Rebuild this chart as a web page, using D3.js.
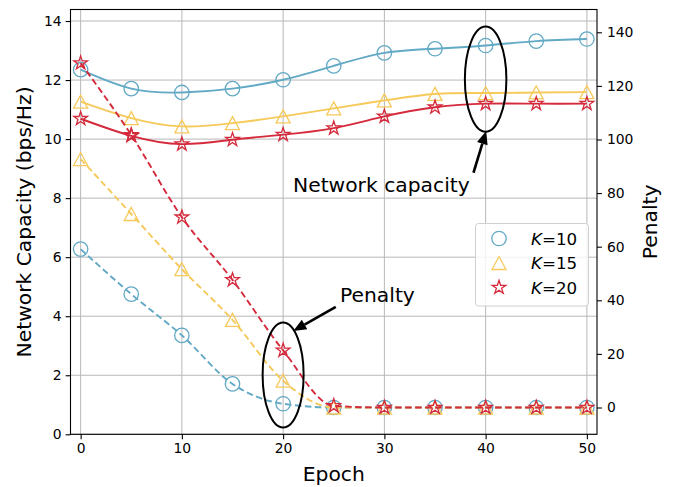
<!DOCTYPE html>
<html>
<head>
<meta charset="utf-8">
<script src="https://cdn.jsdelivr.net/npm/d3@7"></script>
<style>
  body { margin: 0; background: #fff; }
  svg { font-family: "DejaVu Sans", sans-serif; }
</style>
</head>
<body>
<div id="chart"></div>
<script>
// data
const EPOCHS = [0, 5, 10, 15, 20, 25, 30, 35, 40, 45, 50];
const CAP_K10 = [12.35, 11.71, 11.58, 11.71, 12.01, 12.48, 12.92, 13.06, 13.17, 13.32, 13.39];
const CAP_K15 = [11.27, 10.71, 10.43, 10.54, 10.77, 11.04, 11.31, 11.53, 11.56, 11.58, 11.59];
const CAP_K20 = [10.69, 10.11, 9.83, 9.98, 10.15, 10.37, 10.77, 11.08, 11.20, 11.20, 11.20];
const PEN_K10 = [59.1, 42.3, 26.9, 8.8, 1.4, 0, 0, 0, 0, 0, 0];
const PEN_K15 = [92.7, 72.2, 51.6, 32.7, 10.0, 0, 0, 0, 0, 0, 0];
const PEN_K20 = [128.5, 101.7, 71.0, 47.6, 21.3, 0.6, 0, 0, 0, 0, 0];
const K_LABELS = ["10", "15", "20"];
const X_TICKS = [0, 10, 20, 30, 40, 50];
const LEFT_TICKS = [0, 2, 4, 6, 8, 10, 12, 14];
const RIGHT_TICKS = [0, 20, 40, 60, 80, 100, 120, 140];

const WIDTH = 674, HEIGHT = 487;
const LEFT = 70.5, RIGHT = 597, TOP = 9.5, BOTTOM = 434.3;
const COLORS = ["#62a9c5", "#f6c95b", "#d42a3c"];
const SHAPES = ["circle", "triangle", "star"];
const LABEL_SIZE = "20.3px";

const svg = d3.select("#chart").append("svg")
  .attr("width", WIDTH).attr("height", HEIGHT);

const X = d3.scaleLinear().domain([-1, 51]).range([LEFT, RIGHT]);
const YL = d3.scaleLinear().domain([0, 14.39]).range([BOTTOM, TOP]);
const YR = d3.scaleLinear().domain([-10, 148.5]).range([BOTTOM, TOP]);

// grid
svg.append("g").selectAll("line").data(X_TICKS).enter().append("line")
  .attr("x1", d => X(d)).attr("x2", d => X(d))
  .attr("y1", TOP).attr("y2", BOTTOM)
  .attr("stroke", "#b8b8b8").attr("stroke-width", 1);
svg.append("g").selectAll("line").data(LEFT_TICKS).enter().append("line")
  .attr("x1", LEFT).attr("x2", RIGHT)
  .attr("y1", d => YL(d)).attr("y2", d => YL(d))
  .attr("stroke", "#b8b8b8").attr("stroke-width", 1);

// marker path
function markerPath(shape) {
  if (shape === "circle") return d3.symbol().type(d3.symbolCircle).size(Math.PI * 7.2 * 7.2)();
  if (shape === "star") return d3.symbol().type(d3.symbolStar).size(58)();
  return "M0,-6.5L7,6.5L-7,6.5Z";
}

function drawSeries(xs, ys, yScale, color, shape, dashed, curve) {
  const line = d3.line()
    .x((d, i) => X(xs[i]))
    .y(d => yScale(d))
    .curve(curve);
  svg.append("path")
    .datum(ys)
    .attr("d", line)
    .attr("fill", "none")
    .attr("stroke", color)
    .attr("stroke-width", 1.9)
    .attr("stroke-dasharray", dashed ? "6.5,3.5" : null);
  svg.append("g").selectAll("path").data(ys).enter().append("path")
    .attr("d", markerPath(shape))
    .attr("transform", (d, i) => "translate(" + X(xs[i]) + "," + yScale(d) + ")")
    .attr("fill", "none")
    .attr("stroke", color)
    .attr("stroke-width", 1.3);
}

const CAPS = [CAP_K10, CAP_K15, CAP_K20];
const PENS = [PEN_K10, PEN_K15, PEN_K20];
CAPS.forEach((s, i) => drawSeries(EPOCHS, s, YL, COLORS[i], SHAPES[i], false, d3.curveNatural));
PENS.forEach((s, i) => drawSeries(EPOCHS, s, YR, COLORS[i], SHAPES[i], true, d3.curveMonotoneX));

// frame
svg.append("rect")
  .attr("x", LEFT).attr("y", TOP)
  .attr("width", RIGHT - LEFT).attr("height", BOTTOM - TOP)
  .attr("fill", "none").attr("stroke", "#000").attr("stroke-width", 1.1);

// axes
function styleAxis(g) {
  g.select(".domain").remove();
  g.selectAll("text").attr("font-size", "13.9px").attr("font-family", "DejaVu Sans").attr("fill", "#000");
  g.selectAll("line").attr("stroke", "#000").attr("stroke-width", 1.1);
}
svg.append("g").attr("transform", "translate(0," + BOTTOM + ")")
  .call(d3.axisBottom(X).tickValues(X_TICKS).tickSize(4.9).tickPadding(4))
  .call(styleAxis);
svg.append("g").attr("transform", "translate(" + LEFT + ",0)")
  .call(d3.axisLeft(YL).tickValues(LEFT_TICKS).tickSize(4.9).tickPadding(4))
  .call(styleAxis);
svg.append("g").attr("transform", "translate(" + RIGHT + ",0)")
  .call(d3.axisRight(YR).tickValues(RIGHT_TICKS).tickSize(4.9).tickPadding(5))
  .call(styleAxis);

// axis labels
svg.append("text")
  .attr("x", (LEFT + RIGHT) / 2).attr("y", 481)
  .attr("text-anchor", "middle").attr("font-size", LABEL_SIZE)
  .text("Epoch");
svg.append("text")
  .attr("transform", "translate(31," + ((TOP + BOTTOM) / 2) + ") rotate(-90)")
  .attr("text-anchor", "middle").attr("font-size", LABEL_SIZE)
  .text("Network Capacity (bps/Hz)");
svg.append("text")
  .attr("transform", "translate(657," + ((TOP + BOTTOM) / 2) + ") rotate(-90)")
  .attr("text-anchor", "middle").attr("font-size", LABEL_SIZE)
  .text("Penalty");

// annotations
function ellipse(cx, cy, w, h) {
  svg.append("ellipse")
    .attr("cx", X(cx)).attr("cy", YL(cy))
    .attr("rx", (X(w) - X(0)) / 2).attr("ry", (YL(0) - YL(h)) / 2)
    .attr("fill", "none").attr("stroke", "#000").attr("stroke-width", 2);
}
function arrow(x0, y0, x1, y1) {
  const ax = X(x0), ay = YL(y0), bx = X(x1), by = YL(y1);
  const ang = Math.atan2(by - ay, bx - ax);
  const len = 13, hw = 5.5;
  const cx = bx - len * Math.cos(ang), cy = by - len * Math.sin(ang);
  svg.append("line")
    .attr("x1", ax).attr("y1", ay).attr("x2", cx).attr("y2", cy)
    .attr("stroke", "#000").attr("stroke-width", 2.6);
  svg.append("path")
    .attr("d", "M" + bx + "," + by +
      "L" + (cx + hw * Math.sin(ang)) + "," + (cy - hw * Math.cos(ang)) +
      "L" + (cx - hw * Math.sin(ang)) + "," + (cy + hw * Math.cos(ang)) + "Z")
    .attr("fill", "#000");
}
ellipse(20, 2.01, 4.05, 3.56);
ellipse(40, 12.03, 4.1, 3.56);
arrow(25.2, 4.32, 21, 3.5);
arrow(38.8, 8.86, 40.05, 10.27);
svg.append("text")
  .attr("x", 340).attr("y", 302).attr("font-size", LABEL_SIZE)
  .text("Penalty");
svg.append("text")
  .attr("x", 293).attr("y", 192).attr("font-size", LABEL_SIZE)
  .text("Network capacity");

// legend
const legend = svg.append("g");
legend.append("rect")
  .attr("x", 475.5).attr("y", 223.5).attr("width", 113).attr("height", 82.5)
  .attr("rx", 3).attr("fill", "#fff").attr("fill-opacity", 0.8)
  .attr("stroke", "#d0d0d0").attr("stroke-width", 1);
const rows = legend.selectAll("g.row").data(K_LABELS).enter().append("g")
  .attr("class", "row")
  .attr("transform", (d, i) => "translate(0," + (238.5 + i * 24.5) + ")");
rows.append("path")
  .attr("d", (d, i) => markerPath(SHAPES[i]))
  .attr("transform", "translate(499,0)")
  .attr("fill", "none")
  .attr("stroke", (d, i) => COLORS[i])
  .attr("stroke-width", 1.3);
const lt = rows.append("text")
  .attr("x", 531).attr("y", 6).attr("font-size", "16.7px");
lt.append("tspan").attr("font-style", "italic").text("K");
lt.append("tspan").text(d => "=" + d);
</script>
</body>
</html>
